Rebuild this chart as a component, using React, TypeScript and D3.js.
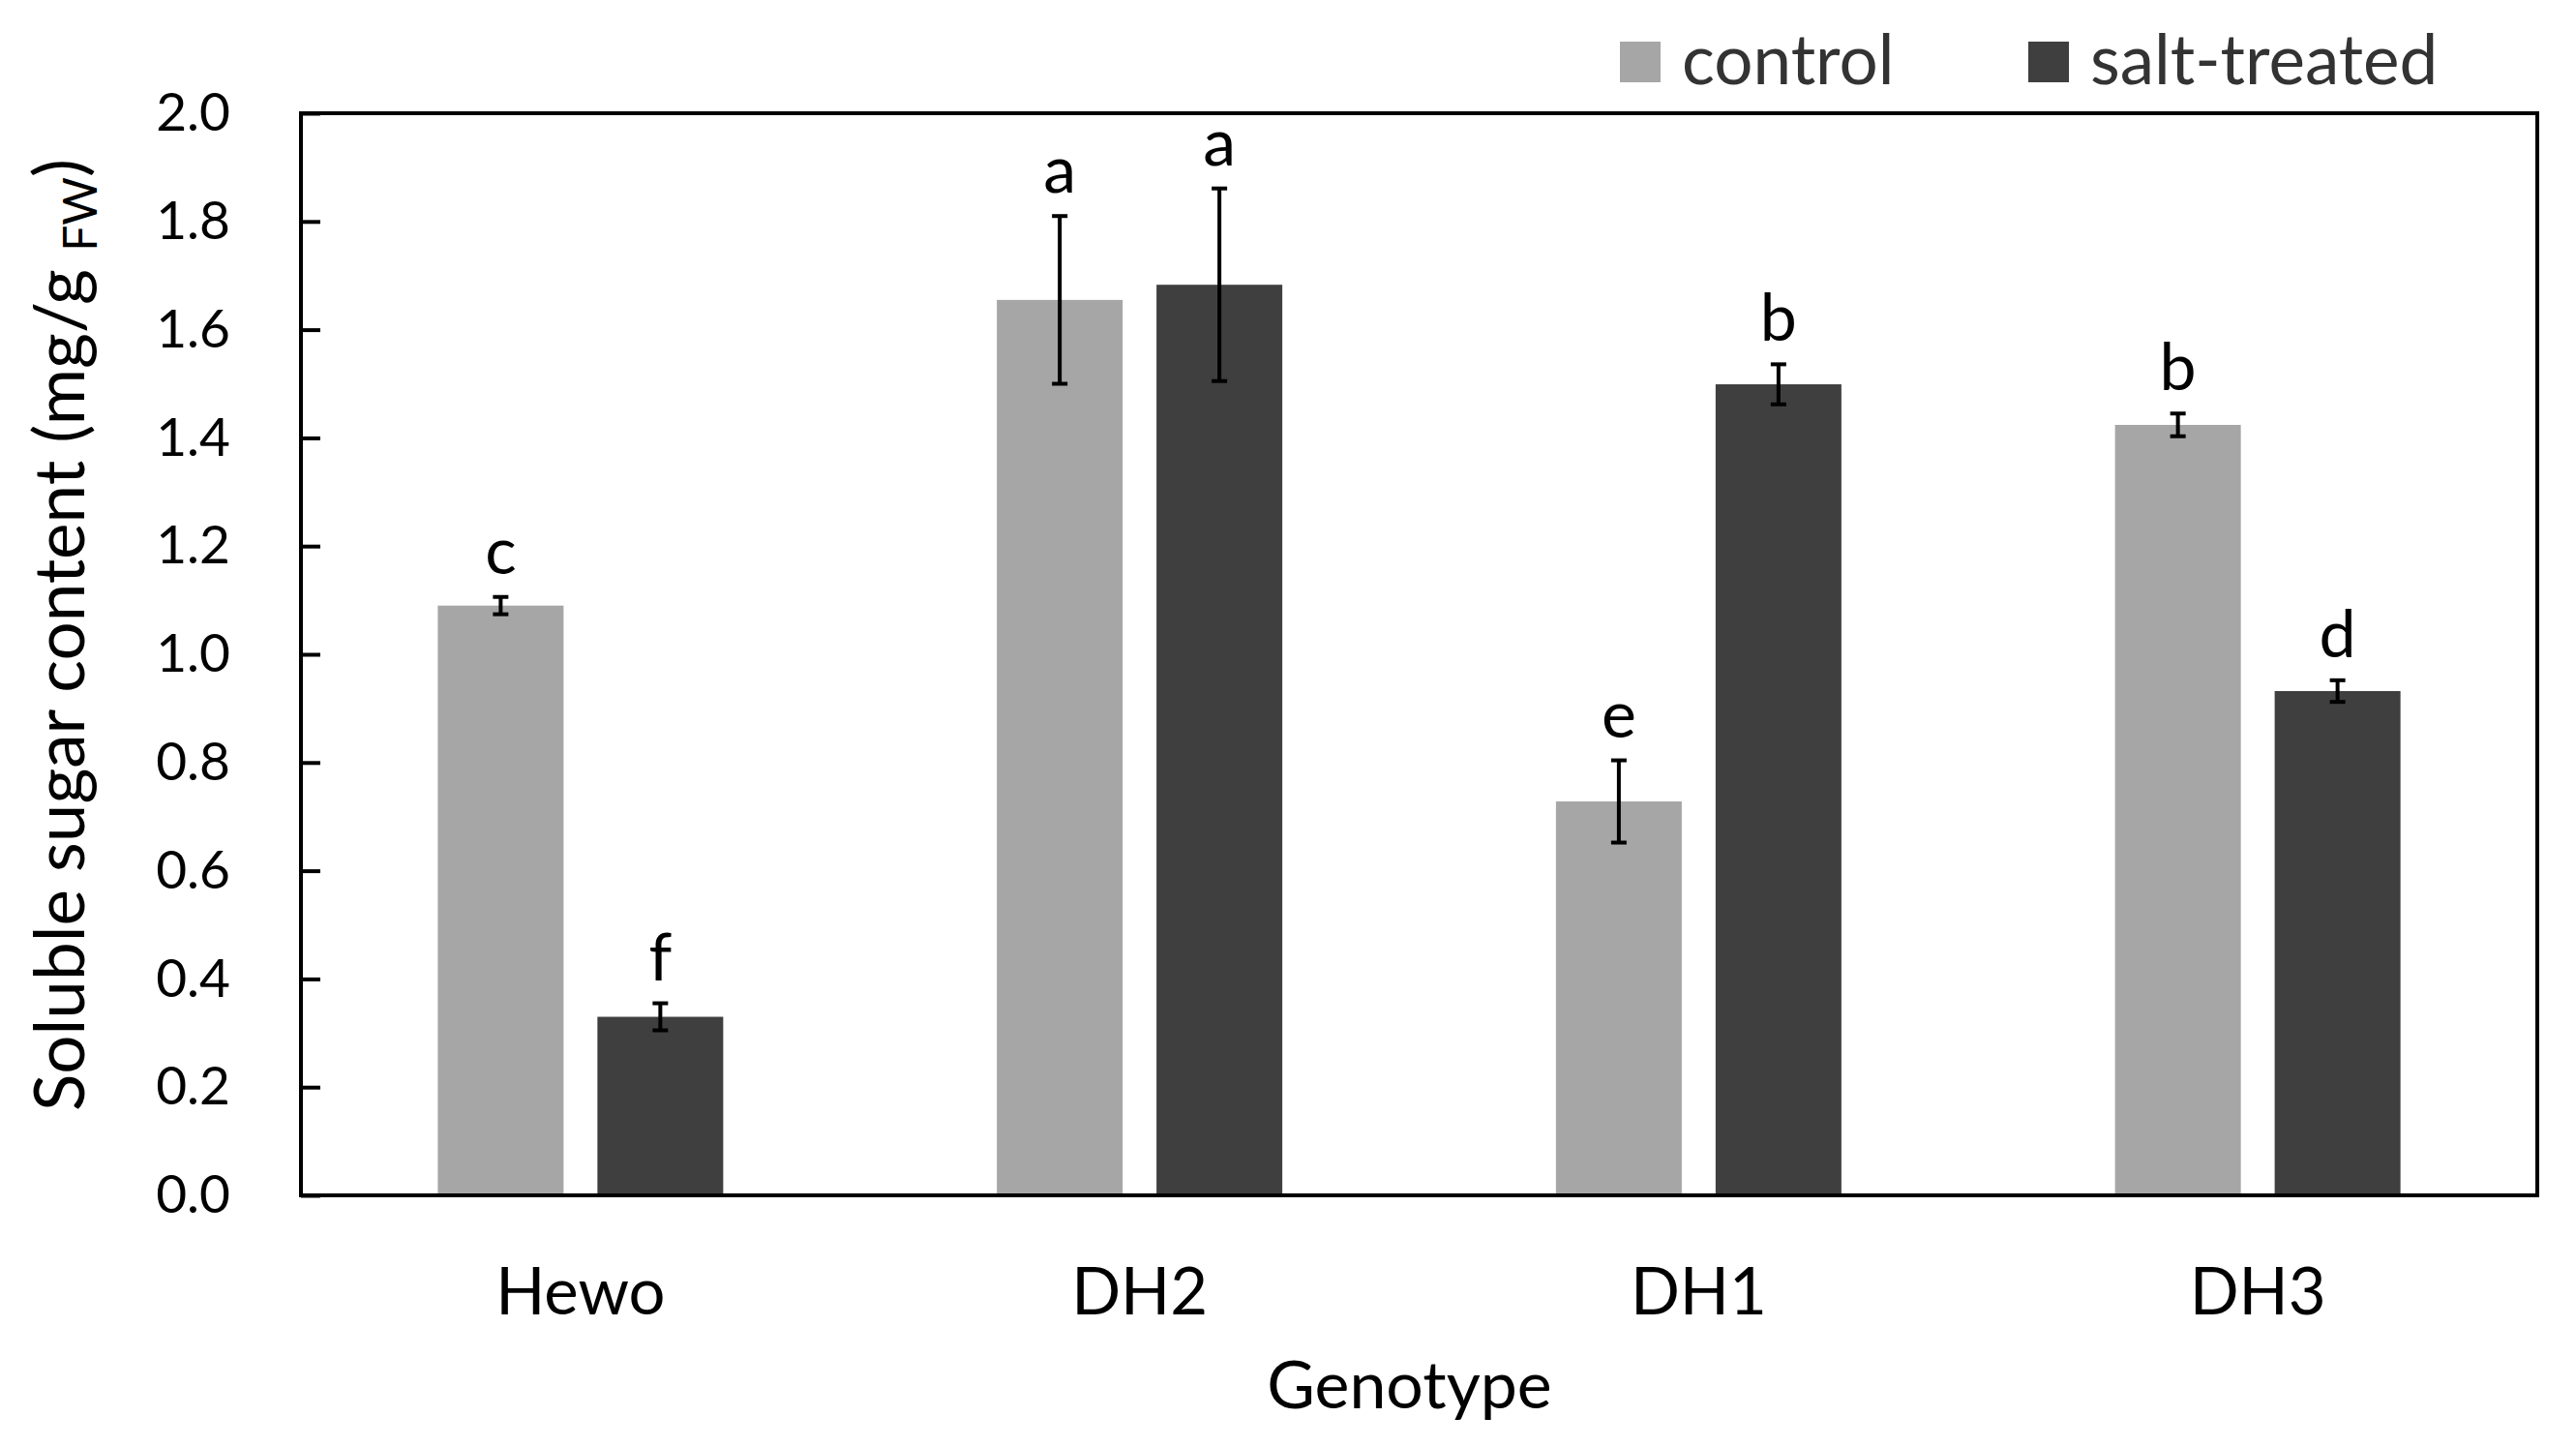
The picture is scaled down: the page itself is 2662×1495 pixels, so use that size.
import { useRef, useEffect } from "react";
import * as d3 from "d3";

// Soluble sugar content per genotype, control vs salt-treated
const GENOTYPES = ["Hewo", "DH2", "DH1", "DH3"];
const SERIES = ["control", "salt-treated"];
const CONTROL = [1.09, 1.655, 0.728, 1.424];
const CONTROL_ERR = [0.016, 0.155, 0.076, 0.021];
const SALT = [0.33, 1.683, 1.499, 0.932];
const SALT_ERR = [0.025, 0.178, 0.037, 0.02];
const CONTROL_LETTERS = ["c", "a", "e", "b"];
const SALT_LETTERS = ["f", "a", "b", "d"];
const Y_TICKS = [0, 0.2, 0.4, 0.6, 0.8, 1.0, 1.2, 1.4, 1.6, 1.8, 2.0];

const COLORS = ["#a6a6a6", "#3f3f3f"];
const FONT = "Lato, 'Open Sans', sans-serif";

const W = 2662;
const H = 1495;

export default function App() {
  const svgRef = useRef<SVGSVGElement>(null);

  useEffect(() => {
    if (!svgRef.current) return;
    const svg = d3.select(svgRef.current);
    svg.selectAll("*").remove();

    const margin = { top: 117, right: 40, bottom: 260, left: 311 };
    const innerW = W - margin.left - margin.right;
    const innerH = H - margin.top - margin.bottom;

    const g = svg
      .append("g")
      .attr("transform", `translate(${margin.left},${margin.top})`);

    const x0 = d3.scaleBand().domain(GENOTYPES).range([0, innerW]).padding(0);
    const x1 = d3
      .scaleBand()
      .domain(SERIES)
      .range([0, x0.bandwidth()])
      .paddingInner(0.212)
      .paddingOuter(0.857);
    const y = d3.scaleLinear().domain([0, 2]).range([innerH, 0]);

    const rows = GENOTYPES.flatMap((gen, i) => [
      { gen, s: SERIES[0], v: CONTROL[i], e: CONTROL_ERR[i], l: CONTROL_LETTERS[i], c: COLORS[0] },
      { gen, s: SERIES[1], v: SALT[i], e: SALT_ERR[i], l: SALT_LETTERS[i], c: COLORS[1] },
    ]);
    const cx = (d: any) => x0(d.gen)! + x1(d.s)! + x1.bandwidth() / 2;

    // Bars
    g.selectAll("rect.bar")
      .data(rows)
      .join("rect")
      .attr("class", "bar")
      .attr("x", (d) => x0(d.gen)! + x1(d.s)!)
      .attr("y", (d) => y(d.v))
      .attr("width", x1.bandwidth())
      .attr("height", (d) => innerH - y(d.v))
      .attr("fill", (d) => d.c);

    // Error bars
    const eb = g.selectAll("g.err").data(rows).join("g").attr("class", "err")
      .attr("stroke", "#000").attr("stroke-width", 4);
    eb.append("line")
      .attr("x1", cx).attr("x2", cx)
      .attr("y1", (d) => y(d.v - d.e)).attr("y2", (d) => y(d.v + d.e));
    eb.append("line")
      .attr("x1", (d) => cx(d) - 8).attr("x2", (d) => cx(d) + 8)
      .attr("y1", (d) => y(d.v + d.e)).attr("y2", (d) => y(d.v + d.e));
    eb.append("line")
      .attr("x1", (d) => cx(d) - 8).attr("x2", (d) => cx(d) + 8)
      .attr("y1", (d) => y(d.v - d.e)).attr("y2", (d) => y(d.v - d.e));

    // Significance letters
    g.selectAll("text.letter")
      .data(rows)
      .join("text")
      .attr("class", "letter")
      .attr("x", cx)
      .attr("y", (d) => y(d.v + d.e) - 24)
      .attr("text-anchor", "middle")
      .attr("font-family", FONT)
      .attr("font-size", 68)
      .attr("fill", "#000")
      .text((d) => d.l);

    // Frame
    g.append("rect")
      .attr("width", innerW)
      .attr("height", innerH)
      .attr("fill", "none")
      .attr("stroke", "#000")
      .attr("stroke-width", 4);

    // Y axis, ticks pointing inward
    g.append("g")
      .call(d3.axisRight(y).tickValues(Y_TICKS).tickSize(20).tickFormat(() => ""))
      .call((a) => {
        a.select(".domain").remove();
        a.selectAll(".tick line").attr("stroke", "#000").attr("stroke-width", 4);
      });
    g.append("g")
      .call(d3.axisLeft(y).tickValues(Y_TICKS).tickSize(0).tickPadding(73).tickFormat(d3.format(".1f") as any))
      .call((a) => {
        a.select(".domain").remove();
        a.selectAll(".tick text")
          .attr("fill", "#000")
          .attr("font-family", FONT)
          .attr("font-size", 55);
      });

    // X category labels
    g.append("g")
      .attr("transform", `translate(0,${innerH})`)
      .call(d3.axisBottom(x0).tickSize(0).tickPadding(0))
      .call((a) => {
        a.select(".domain").remove();
        a.selectAll(".tick text")
          .attr("fill", "#000")
          .attr("font-family", FONT)
          .attr("font-size", 67)
          .attr("dy", 0)
          .attr("y", 123);
      });

    // Axis titles
    g.append("text")
      .attr("x", innerW / 2 - 10)
      .attr("y", innerH + 220)
      .attr("text-anchor", "middle")
      .attr("font-family", FONT)
      .attr("font-size", 68)
      .attr("fill", "#000")
      .text("Genotype");

    const yt = svg.append("text")
      .attr("transform", `translate(87,656) rotate(-90)`)
      .attr("text-anchor", "middle")
      .attr("font-family", FONT)
      .attr("font-size", 71)
      .attr("fill", "#000");
    yt.append("tspan").text("Soluble sugar content (mg/g ");
    yt.append("tspan").attr("font-size", 48).attr("dy", 13).text("FW");
    yt.append("tspan").attr("dy", -13).text(")");

    // Legend
    const legX = [1674, 2096];
    const lg = svg.selectAll("g.leg").data(SERIES).join("g").attr("class", "leg")
      .attr("transform", (_, i) => `translate(${legX[i]},43)`);
    lg.append("rect").attr("width", 42).attr("height", 42).attr("fill", (_, i) => COLORS[i]);
    lg.append("text")
      .attr("x", 64)
      .attr("y", 44)
      .attr("font-family", FONT)
      .attr("font-size", 71)
      .attr("fill", "#333")
      .text((d) => d);
  }, []);

  return (
    <svg
      ref={svgRef}
      width={W}
      height={H}
      style={{ position: "absolute", left: 0, top: 0, background: "#fff", display: "block" }}
    />
  );
}
